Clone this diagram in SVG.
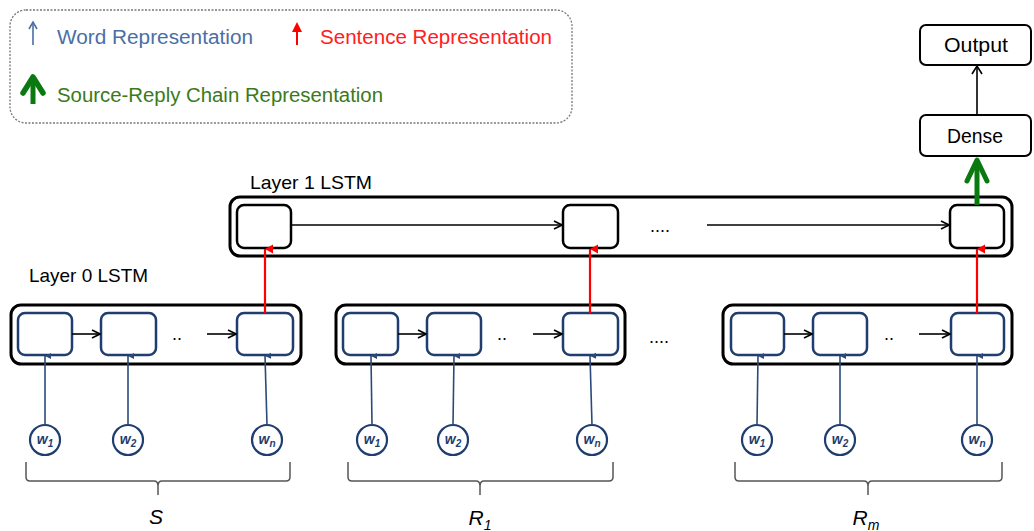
<svg xmlns="http://www.w3.org/2000/svg" width="1034" height="531" viewBox="0 0 1034 531">
  <defs>
    <marker id="ah-black" markerWidth="10" markerHeight="10" refX="9" refY="5" orient="auto" markerUnits="userSpaceOnUse">
      <path d="M1,1 L9,5 L1,9" fill="none" stroke="#000" stroke-width="1.6"/>
    </marker>
    <marker id="ah-blue" markerWidth="8" markerHeight="8" refX="4" refY="1" orient="auto" markerUnits="userSpaceOnUse">
      <path d="M1,7 L4,1 L7,7 Z" fill="#2a4a7a"/>
    </marker>
    <marker id="ah-red" markerWidth="12" markerHeight="12" refX="6" refY="1" orient="auto" markerUnits="userSpaceOnUse">
      <path d="M1.5,9 L6,1 L10.5,9 Z" fill="#ff0000"/>
    </marker>
    <style>
      .txt { font-family: "Liberation Sans", Arial, sans-serif; }
      .outer { fill: #fff; stroke: #000; stroke-width: 3; }
      .cell { fill: #fff; stroke: #1f3d6e; stroke-width: 2.5; }
      .cell1 { fill: #fff; stroke: #000; stroke-width: 2.5; }
      .box { fill: #fff; stroke: #000; stroke-width: 2; }
      .word { fill: #fff; stroke: #1f3d6e; stroke-width: 2.2; }
      .wl { font-family: "Liberation Sans", Arial, sans-serif; font-style: italic; font-weight: bold; font-size: 14px; fill: #1f3d6e; }
      .fwd { stroke: #000; stroke-width: 1.6; fill: none; marker-end: url(#ah-black); }
      .up { stroke: #2a4a7a; stroke-width: 1.6; fill: none; marker-end: url(#ah-blue); }
      .sent { stroke: #ff0000; stroke-width: 2.2; fill: none; marker-end: url(#ah-red); }
      .brace { stroke: #555; stroke-width: 1.5; fill: none; }
      .dots { font-family: "Liberation Sans", Arial, sans-serif; font-size: 18px; fill: #000; }
      .lbl { font-family: "Liberation Sans", Arial, sans-serif; font-size: 20px; fill: #000; }
      .grp { font-family: "Liberation Sans", Arial, sans-serif; font-style: italic; font-size: 21px; fill: #000; }
    </style>
  </defs>

  <rect width="1034" height="531" fill="#fff"/>

  <!-- legend -->
  <g id="legend">
    <rect x="10" y="10" width="562" height="113" rx="16" ry="16" fill="#fff" stroke="#777" stroke-width="1.3" stroke-dasharray="2,1.5"/>
    <line x1="33" y1="45" x2="33" y2="24" stroke="#4a6fa5" stroke-width="1.6"/>
    <path d="M29,29 L33,22 L37,29" fill="none" stroke="#4a6fa5" stroke-width="1.6"/>
    <text class="txt" x="57" y="44" font-size="20" fill="#4a6fa5" textLength="196" lengthAdjust="spacingAndGlyphs">Word Representation</text>
    <line x1="297" y1="45" x2="297" y2="26" stroke="#ff0000" stroke-width="2"/>
    <path d="M292,32 L297,22 L302,32 Z" fill="#ff0000"/>
    <text class="txt" x="320" y="44" font-size="20" fill="#ff2020" textLength="232" lengthAdjust="spacingAndGlyphs">Sentence Representation</text>
    <line x1="33" y1="104" x2="33" y2="80" stroke="#0a7a10" stroke-width="5"/>
    <path d="M23,93 L33,77 L43,93" fill="none" stroke="#0a7a10" stroke-width="5.5" stroke-linejoin="round" stroke-linecap="round"/>
    <text class="txt" x="57" y="102" font-size="20" fill="#3a7a1a" textLength="326" lengthAdjust="spacingAndGlyphs">Source-Reply Chain Representation</text>
  </g>

  <!-- top layers -->
  <g id="output">
    <rect class="box" x="920" y="25" width="111" height="40" rx="6"/>
    <text class="lbl" x="976" y="52" text-anchor="middle" textLength="64" lengthAdjust="spacingAndGlyphs">Output</text>
  </g>
  <g id="dense">
    <rect class="box" x="920" y="115" width="111" height="41" rx="6"/>
    <text class="lbl" x="975" y="143" text-anchor="middle" textLength="56" lengthAdjust="spacingAndGlyphs">Dense</text>
  </g>

  <!-- layer 1 -->
  <g id="layer1">
    <text class="txt" x="250" y="189" font-size="19" fill="#000" textLength="122" lengthAdjust="spacingAndGlyphs">Layer 1 LSTM</text>
    <rect class="outer" x="230" y="197" width="782" height="59" rx="10"/>
    <rect class="cell1" x="237" y="205" width="54" height="43" rx="7"/>
    <rect class="cell1" x="563" y="205" width="55" height="43" rx="7"/>
    <rect class="cell1" x="950" y="205" width="54" height="43" rx="7"/>
    <text class="dots" x="650" y="232">....</text>
  </g>

  <!-- layer 0 -->
  <g id="layer0-label">
    <text class="txt" x="29" y="282" font-size="19" fill="#000" textLength="119" lengthAdjust="spacingAndGlyphs">Layer 0 LSTM</text>
  </g>

  <g id="group-S">
    <rect class="outer" x="11" y="305" width="290" height="59" rx="10"/>
    <rect class="cell" x="18" y="313" width="54" height="42" rx="7"/>
    <rect class="cell" x="101" y="313" width="55" height="42" rx="7"/>
    <rect class="cell" x="237" y="313" width="56" height="42" rx="7"/>
    <text class="dots" x="172" y="340">..</text>
    <circle class="word" cx="45" cy="440" r="15"/>
    <text class="wl" x="45" y="444" text-anchor="middle">w<tspan font-size="10" dy="3">1</tspan></text>
    <circle class="word" cx="128" cy="440" r="15"/>
    <text class="wl" x="128" y="444" text-anchor="middle">w<tspan font-size="10" dy="3">2</tspan></text>
    <circle class="word" cx="267" cy="440" r="15"/>
    <text class="wl" x="267" y="444" text-anchor="middle">w<tspan font-size="10" dy="3">n</tspan></text>
    <path class="brace" d="M26,462 V477 Q26,481 30,481 H154 Q158,481 158,486 V495 M158,486 Q158,481 162,481 H286 Q290,481 290,477 V462"/>
    <text class="grp" x="156" y="524" text-anchor="middle">S</text>
  </g>

  <g id="group-R1">
    <rect class="outer" x="336" y="305" width="289" height="59" rx="10"/>
    <rect class="cell" x="343" y="313" width="55" height="42" rx="7"/>
    <rect class="cell" x="427" y="313" width="54" height="42" rx="7"/>
    <rect class="cell" x="563" y="313" width="55" height="42" rx="7"/>
    <text class="dots" x="497" y="340">..</text>
    <circle class="word" cx="372" cy="440" r="15"/>
    <text class="wl" x="372" y="444" text-anchor="middle">w<tspan font-size="10" dy="3">1</tspan></text>
    <circle class="word" cx="453" cy="440" r="15"/>
    <text class="wl" x="453" y="444" text-anchor="middle">w<tspan font-size="10" dy="3">2</tspan></text>
    <circle class="word" cx="592" cy="440" r="15"/>
    <text class="wl" x="592" y="444" text-anchor="middle">w<tspan font-size="10" dy="3">n</tspan></text>
    <path class="brace" d="M348,462 V477 Q348,481 352,481 H476 Q480,481 480,486 V495 M480,486 Q480,481 484,481 H609 Q613,481 613,477 V462"/>
    <text class="grp" x="480" y="525" text-anchor="middle">R<tspan font-size="14" dy="5">1</tspan></text>
  </g>

  <text class="dots" x="649" y="343">....</text>

  <g id="group-Rm">
    <rect class="outer" x="723" y="305" width="289" height="59" rx="10"/>
    <rect class="cell" x="731" y="313" width="53" height="42" rx="7"/>
    <rect class="cell" x="813" y="313" width="54" height="42" rx="7"/>
    <rect class="cell" x="951" y="313" width="53" height="42" rx="7"/>
    <text class="dots" x="884" y="340">..</text>
    <circle class="word" cx="757" cy="440" r="15"/>
    <text class="wl" x="757" y="444" text-anchor="middle">w<tspan font-size="10" dy="3">1</tspan></text>
    <circle class="word" cx="840" cy="440" r="15"/>
    <text class="wl" x="840" y="444" text-anchor="middle">w<tspan font-size="10" dy="3">2</tspan></text>
    <circle class="word" cx="977" cy="440" r="15"/>
    <text class="wl" x="977" y="444" text-anchor="middle">w<tspan font-size="10" dy="3">n</tspan></text>
    <path class="brace" d="M735,462 V477 Q735,481 739,481 H864 Q868,481 868,486 V495 M868,486 Q868,481 872,481 H998 Q1002,481 1002,477 V462"/>
    <text class="grp" x="866" y="525" text-anchor="middle">R<tspan font-size="14" dy="5">m</tspan></text>
  </g>

  <!-- connectors -->
  <g id="connectors">
    <!-- recurrence within layer 0 -->
    <line class="fwd" x1="72" y1="334" x2="100" y2="334"/>
    <line class="fwd" x1="207" y1="334" x2="236" y2="334"/>
    <line class="fwd" x1="398" y1="334" x2="426" y2="334"/>
    <line class="fwd" x1="533" y1="334" x2="562" y2="334"/>
    <line class="fwd" x1="784" y1="334" x2="812" y2="334"/>
    <line class="fwd" x1="919" y1="334" x2="950" y2="334"/>
    <!-- recurrence within layer 1 -->
    <line class="fwd" x1="291" y1="225" x2="562" y2="225"/>
    <line class="fwd" x1="707" y1="225" x2="949" y2="225"/>
    <!-- word inputs -->
    <path class="up" d="M45,425 V356"/>
    <path class="up" d="M128,425 V356"/>
    <path class="up" d="M267,425 L265,356"/>
    <path class="up" d="M372,425 L371,356"/>
    <path class="up" d="M453,425 L454,356"/>
    <path class="up" d="M592,425 L590,356"/>
    <path class="up" d="M757,425 L758,356"/>
    <path class="up" d="M840,425 V356"/>
    <path class="up" d="M977,425 V356"/>
    <!-- sentence representations -->
    <line class="sent" x1="265" y1="313" x2="265" y2="249"/>
    <line class="sent" x1="590" y1="313" x2="590" y2="249"/>
    <line class="sent" x1="977" y1="313" x2="977" y2="249"/>
    <!-- chain representation -->
    <line x1="977" y1="205" x2="977" y2="162" stroke="#0a7a10" stroke-width="5"/>
    <path d="M967,181 L977,160 L987,181" fill="none" stroke="#0a7a10" stroke-width="5" stroke-linejoin="round" stroke-linecap="round"/>
    <!-- dense to output -->
    <line x1="977" y1="115" x2="977" y2="66" stroke="#000" stroke-width="1.6"/>
    <path d="M972,74 L977,66 L982,74" fill="none" stroke="#000" stroke-width="1.6"/>
  </g>
</svg>
